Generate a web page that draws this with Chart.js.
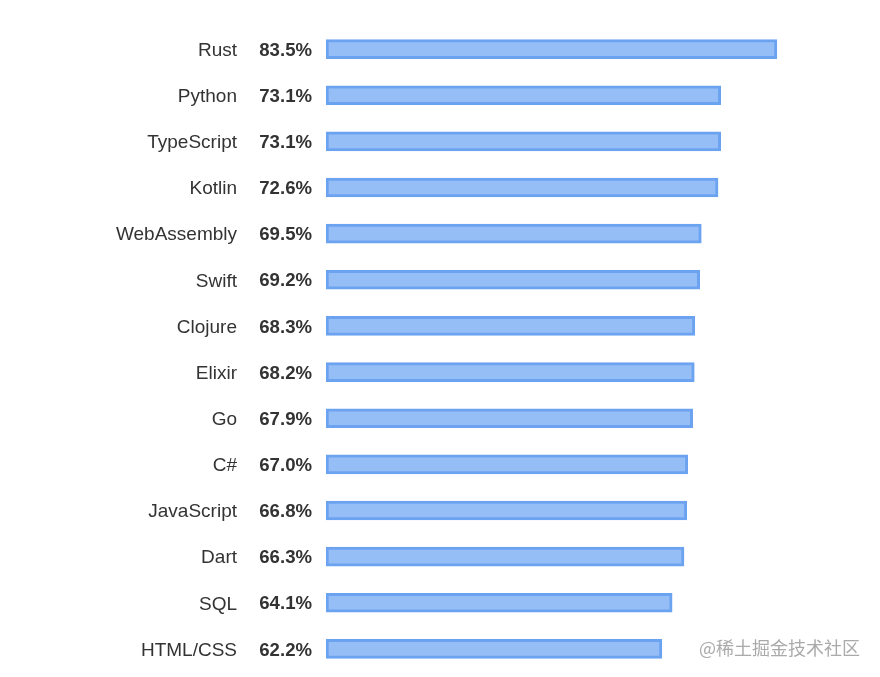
<!DOCTYPE html>
<html>
<head>
<meta charset="utf-8">
<script src="https://cdn.jsdelivr.net/npm/chart.js@4/dist/chart.umd.min.js"></script>
<style>
  html, body { margin: 0; padding: 0; background: #fff; }
  #wrap { width: 880px; height: 677px; position: relative; }
</style>
</head>
<body>
<div id="wrap"><canvas id="c"></canvas></div>
<script>
const languages = ['Rust', 'Python', 'TypeScript', 'Kotlin', 'WebAssembly', 'Swift', 'Clojure',
    'Elixir', 'Go', 'C#', 'JavaScript', 'Dart', 'SQL', 'HTML/CSS'];
const loved = [83.5, 73.1, 73.1, 72.6, 69.5, 69.2, 68.3, 68.2, 67.9, 67.0, 66.8, 66.3, 64.1, 62.2];

// draws the name + bold percent columns next to each bar
const sideLabels = {
    id: 'sideLabels',
    afterDatasetsDraw(chart) {
        const ctx = chart.ctx;
        const y = chart.scales.y;
        ctx.save();
        ctx.textBaseline = 'middle';
        ctx.textAlign = 'right';
        languages.forEach((name, i) => {
            const py = y.getPixelForValue(i) + 1.5;
            ctx.fillStyle = '#333';
            ctx.font = '19px "Liberation Sans", Arial, sans-serif';
            ctx.fillText(name, 237, py);
            ctx.font = 'bold 18.6px "Liberation Sans", Arial, sans-serif';
            ctx.fillText(loved[i].toFixed(1) + '%', 312, py);
        });
        ctx.font = '18px "Noto Sans CJK SC", sans-serif';
        ctx.fillStyle = '#aaaaaa';
        ctx.textAlign = 'left';
        ctx.fillText('@稀土掘金技术社区', 699, 648);
        ctx.restore();
    }
};

new Chart(document.getElementById('c'), {
    type: 'bar',
    data: {
        labels: languages,
        datasets: [{
            data: loved,
            backgroundColor: 'rgba(150, 190, 246, 1)',
            borderColor: 'rgba(108, 163, 240, 1)',
            borderWidth: 3,
            borderSkipped: false,
            barThickness: 19
        }]
    },
    options: {
        indexAxis: 'y',
        responsive: true,
        maintainAspectRatio: false,
        animation: false,
        layout: { padding: { left: 326, right: 14, top: 26, bottom: 5 } },
        scales: {
            x: { display: false, min: 0, max: 100 },
            y: { display: false }
        },
        plugins: {
            legend: { display: false },
            tooltip: { enabled: false }
        }
    },
    plugins: [sideLabels]
});
</script>
</body>
</html>
